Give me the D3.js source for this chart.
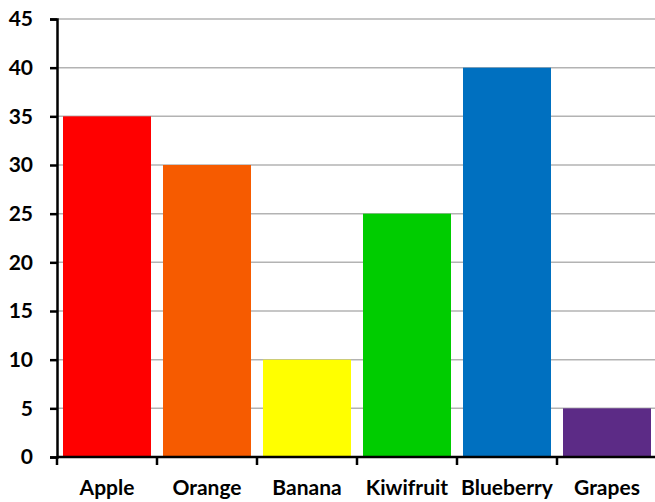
<!DOCTYPE html>
<html>
<head>
<meta charset="utf-8">
<script src="https://cdn.jsdelivr.net/npm/d3@7"></script>
<style>
  html, body { margin: 0; padding: 0; background: #fff; }
  svg { display: block; }
  .lbl { font-family: Lato, "Open Sans", sans-serif; font-weight: 700; font-size: 21px; fill: #000; }
</style>
</head>
<body>
<svg id="chart" width="655" height="502"></svg>
<script>
// Fruit counts
const categories = ["Apple", "Orange", "Banana", "Kiwifruit", "Blueberry", "Grapes"];
const values = [35, 30, 10, 25, 40, 5];
const barColors = ["#ff0000", "#f65b00", "#ffff00", "#00cc00", "#0070c0", "#5c2b86"];
const yTicks = [0, 5, 10, 15, 20, 25, 30, 35, 40, 45];

const svg = d3.select("#chart");
const plotLeft = 57, plotRight = 657, plotTop = 19, plotBottom = 457;

const x = d3.scaleBand().domain(categories).range([plotLeft, plotRight]).paddingInner(0.12).paddingOuter(0.06);
const y = d3.scaleLinear().domain([0, 45]).range([plotBottom, plotTop]);

// Horizontal gridlines
svg.append("g").selectAll("line").data(yTicks.filter(d => d > 0)).join("line")
  .attr("x1", plotLeft).attr("x2", 655)
  .attr("y1", d => y(d)).attr("y2", d => y(d))
  .attr("stroke", "#b3b3b3").attr("stroke-width", 1.5);

// Bars
svg.append("g").selectAll("rect").data(categories).join("rect")
  .attr("x", d => x(d))
  .attr("width", x.bandwidth())
  .attr("y", (d, i) => y(values[i]))
  .attr("height", (d, i) => y(0) - y(values[i]))
  .attr("fill", (d, i) => barColors[i]);

// Y axis
const yAxis = svg.append("g").attr("transform", `translate(${plotLeft},0)`)
  .call(d3.axisLeft(y).tickValues(yTicks).tickSize(7).tickPadding(17));
yAxis.select(".domain").attr("stroke", "#000").attr("stroke-width", 2.5);
yAxis.selectAll(".tick line").attr("stroke", "#000").attr("stroke-width", 2.5);
yAxis.selectAll(".tick text").attr("class", "lbl").attr("fill", null);
yAxis.attr("font-size", null).attr("font-family", null);

// X axis with ticks at band boundaries
const xg = svg.append("g");
xg.append("line").attr("x1", plotLeft).attr("x2", 655).attr("y1", plotBottom).attr("y2", plotBottom)
  .attr("stroke", "#000").attr("stroke-width", 2.5);
const step = x.step();
const bounds = d3.range(categories.length + 1).map(i => plotLeft + i * step);
xg.selectAll("line.tk").data(bounds).join("line").attr("class", "tk")
  .attr("x1", d => d).attr("x2", d => d)
  .attr("y1", plotBottom).attr("y2", plotBottom + 8)
  .attr("stroke", "#000").attr("stroke-width", 2.5);
xg.selectAll("text").data(categories).join("text")
  .attr("class", "lbl")
  .attr("x", (d, i) => plotLeft + (i + 0.5) * step)
  .attr("y", 495)
  .attr("text-anchor", "middle")
  .text(d => d);
</script>
</body>
</html>
